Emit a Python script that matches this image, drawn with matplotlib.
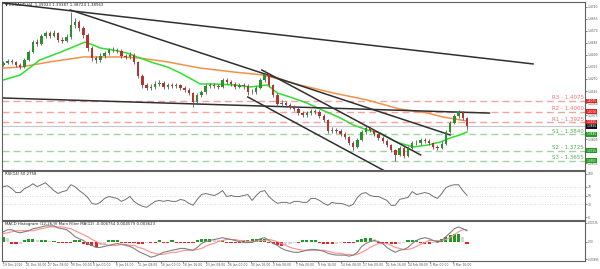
import numpy as np
import matplotlib
matplotlib.use("Agg")
import matplotlib.pyplot as plt
import matplotlib.transforms as mtransforms

# EURAUD H4, one candle per 3 bars (open = previous close)
first_open = 1.4330
close = [1.4343, 1.4357, 1.4350, 1.4329, 1.4315, 1.4364, 1.4420, 1.4490, 1.4476, 1.4533,
         1.4554, 1.4533, 1.4554, 1.4505, 1.4498, 1.4526, 1.4610, 1.4631, 1.4589, 1.4540,
         1.4448, 1.4378, 1.4364, 1.4392, 1.4413, 1.4434, 1.4434, 1.4427, 1.4392, 1.4385,
         1.4399, 1.4350, 1.4251, 1.4188, 1.4167, 1.4174, 1.4195, 1.4202, 1.4174, 1.4188,
         1.4181, 1.4188, 1.4167, 1.4152, 1.4131, 1.4068, 1.4117, 1.4138, 1.4181, 1.4188,
         1.4181, 1.4174, 1.4223, 1.4209, 1.4195, 1.4174, 1.4188, 1.4181, 1.4138, 1.4138,
         1.4167, 1.4223, 1.4265, 1.4188, 1.4117, 1.4054, 1.4061, 1.4047, 1.4033, 1.4019,
         1.3990, 1.3976, 1.3990, 1.4005, 1.3998, 1.3969, 1.3941, 1.3864, 1.3871, 1.3864,
         1.3843, 1.3821, 1.3779, 1.3751, 1.3800, 1.3857, 1.3885, 1.3871, 1.3843, 1.3814,
         1.3793, 1.3765, 1.3730, 1.3695, 1.3744, 1.3688, 1.3744, 1.3779, 1.3779, 1.3800,
         1.3793, 1.3779, 1.3751, 1.3744, 1.3772, 1.3857, 1.3920, 1.3969, 1.3998, 1.3955,
         1.3896]
high = [1.4360, 1.4372, 1.4368, 1.4355, 1.4340, 1.4375, 1.4432, 1.4505, 1.4510, 1.4548,
        1.4570, 1.4568, 1.4572, 1.4560, 1.4525, 1.4545, 1.4703, 1.4660, 1.4645, 1.4600,
        1.4552, 1.4460, 1.4395, 1.4410, 1.4430, 1.4450, 1.4452, 1.4448, 1.4440, 1.4405,
        1.4418, 1.4410, 1.4360, 1.4262, 1.4200, 1.4195, 1.4215, 1.4222, 1.4215, 1.4205,
        1.4200, 1.4205, 1.4198, 1.4178, 1.4165, 1.4140, 1.4130, 1.4152, 1.4195, 1.4205,
        1.4202, 1.4195, 1.4240, 1.4235, 1.4222, 1.4208, 1.4205, 1.4200, 1.4192, 1.4160,
        1.4182, 1.4240, 1.4295, 1.4275, 1.4198, 1.4128, 1.4080, 1.4075, 1.4060, 1.4045,
        1.4030, 1.4005, 1.4008, 1.4022, 1.4020, 1.4010, 1.3980, 1.3950, 1.3890, 1.3885,
        1.3878, 1.3855, 1.3832, 1.3790, 1.3815, 1.3870, 1.3900, 1.3898, 1.3880, 1.3852,
        1.3825, 1.3805, 1.3775, 1.3740, 1.3758, 1.3755, 1.3758, 1.3795, 1.3798, 1.3815,
        1.3812, 1.3805, 1.3788, 1.3768, 1.3790, 1.3870, 1.3935, 1.3985, 1.4012, 1.4005,
        1.3962]
low = [1.4318, 1.4335, 1.4338, 1.4315, 1.4300, 1.4308, 1.4355, 1.4412, 1.4462, 1.4468,
       1.4520, 1.4518, 1.4525, 1.4490, 1.4485, 1.4490, 1.4515, 1.4590, 1.4570, 1.4520,
       1.4430, 1.4360, 1.4340, 1.4350, 1.4380, 1.4400, 1.4418, 1.4410, 1.4375, 1.4368,
       1.4370, 1.4335, 1.4238, 1.4170, 1.4150, 1.4152, 1.4160, 1.4182, 1.4158, 1.4160,
       1.4165, 1.4168, 1.4150, 1.4135, 1.4115, 1.4030, 1.4055, 1.4100, 1.4125, 1.4168,
       1.4165, 1.4158, 1.4165, 1.4192, 1.4180, 1.4158, 1.4165, 1.4162, 1.4120, 1.4122,
       1.4125, 1.4158, 1.4210, 1.4175, 1.4100, 1.4038, 1.4040, 1.4030, 1.4018, 1.4002,
       1.3975, 1.3960, 1.3962, 1.3978, 1.3982, 1.3955, 1.3925, 1.3848, 1.3852, 1.3848,
       1.3828, 1.3805, 1.3762, 1.3732, 1.3742, 1.3790, 1.3845, 1.3855, 1.3830, 1.3800,
       1.3778, 1.3750, 1.3715, 1.3650, 1.3685, 1.3672, 1.3680, 1.3735, 1.3762, 1.3765,
       1.3778, 1.3762, 1.3735, 1.3728, 1.3735, 1.3765, 1.3848, 1.3910, 1.3958, 1.3940,
       1.3872]

# moving averages (bar index, price)
ma_slow_x = [0, 12, 33, 57, 69, 83, 97, 117, 140, 164, 185, 211, 235, 259, 282, 302, 313, 330]
ma_slow = [1.4307, 1.4314, 1.4350, 1.4385, 1.4385, 1.4385, 1.4378, 1.4350, 1.4307, 1.4279,
           1.4258, 1.4188, 1.4131, 1.4082, 1.4019, 1.3990, 1.3962, 1.3934]
ma_fast_x = [0, 12, 26, 41, 53, 58, 64, 69, 78, 88, 97, 107, 117, 126, 135, 140, 149, 164,
             176, 188, 195, 204, 216, 230, 240, 249, 259, 268, 277, 282, 292, 302, 311, 318,
             325, 330]
ma_fast = [1.4223, 1.4258, 1.4364, 1.4420, 1.4469, 1.4490, 1.4469, 1.4448, 1.4434, 1.4413,
           1.4378, 1.4343, 1.4314, 1.4272, 1.4223, 1.4195, 1.4195, 1.4188, 1.4174, 1.4188,
           1.4131, 1.4103, 1.4061, 1.3998, 1.3955, 1.3906, 1.3871, 1.3850, 1.3800, 1.3779,
           1.3751, 1.3765, 1.3786, 1.3814, 1.3836, 1.3857]

# trend lines (bar, price) -> (bar, price)
trend_lines = [((0, 1.4765), (377, 1.4336)),
               ((47.6, 1.4716), (318, 1.3836)),
               ((184, 1.4293), (297, 1.3695)),
               ((174, 1.4103), (275, 1.3563)),
               ((0, 1.4096), (346, 1.3990))]

level_names = ["R3", "R2", "R1", "S1", "S2", "S3"]
level_values = [1.4075, 1.4000, 1.3925, 1.3840, 1.3725, 1.3655]
last_price = 1.3896

price_ticks = [1.4740, 1.4655, 1.4570, 1.4485, 1.4400, 1.4315, 1.4230, 1.4145,
               1.4060, 1.3975, 1.3890, 1.3805, 1.3720, 1.3635]

rsi = [70.5, 72.7, 65.9, 56.8, 56.8, 65.9, 70.5, 77.3, 70.5, 75.0,
       79.5, 70.5, 61.4, 54.5, 59.1, 61.4, 75.0, 70.5, 61.4, 54.5,
       45.5, 31.8, 29.5, 34.1, 43.2, 47.7, 45.5, 43.2, 36.4, 40.9,
       47.7, 36.4, 29.5, 25.0, 22.7, 29.5, 36.4, 38.6, 36.4, 38.6,
       36.4, 36.4, 40.9, 38.6, 31.8, 27.3, 40.9, 52.3, 54.5, 52.3,
       50.0, 54.5, 61.4, 47.7, 50.0, 47.7, 47.7, 50.0, 52.3, 38.6,
       50.0, 59.1, 61.4, 47.7, 38.6, 31.8, 34.1, 34.1, 31.8, 36.4,
       36.4, 34.1, 34.1, 43.2, 43.2, 38.6, 31.8, 27.3, 34.1, 31.8,
       31.8, 29.5, 25.0, 29.5, 45.5, 54.5, 56.8, 50.0, 47.7, 47.7,
       43.2, 38.6, 27.3, 27.3, 40.9, 43.2, 45.5, 59.1, 52.3, 54.5,
       56.8, 54.5, 47.7, 43.2, 54.5, 68.2, 72.7, 75.0, 75.0, 61.4,
       50.3]

macd_main = [0.0038, 0.0046, 0.0046, 0.0038, 0.0034, 0.0038, 0.0042, 0.0050, 0.0053, 0.0057,
             0.0061, 0.0061, 0.0061, 0.0053, 0.0050, 0.0046, 0.0034, 0.0019, 0.0011, 0.0004,
             -0.0008, -0.0015, -0.0023, -0.0023, -0.0019, -0.0015, -0.0011, -0.0008, -0.0011, -0.0015,
             -0.0019, -0.0027, -0.0038, -0.0046, -0.0053, -0.0061, -0.0057, -0.0050, -0.0042, -0.0038,
             -0.0034, -0.0031, -0.0027, -0.0027, -0.0031, -0.0034, -0.0023, -0.0008, 0.0000, 0.0004,
             0.0008, 0.0011, 0.0015, 0.0011, 0.0008, 0.0004, 0.0000, -0.0004, -0.0004, -0.0004,
             0.0004, 0.0011, 0.0015, 0.0004, -0.0008, -0.0015, -0.0027, -0.0034, -0.0038, -0.0042,
             -0.0042, -0.0038, -0.0034, -0.0031, -0.0031, -0.0034, -0.0038, -0.0046, -0.0050, -0.0053,
             -0.0053, -0.0053, -0.0057, -0.0053, -0.0042, -0.0019, -0.0008, 0.0000, 0.0004, 0.0000,
             -0.0008, -0.0023, -0.0034, -0.0042, -0.0034, -0.0031, -0.0023, -0.0008, 0.0004, 0.0011,
             0.0015, 0.0011, 0.0004, -0.0004, 0.0004, 0.0019, 0.0034, 0.0050, 0.0057, 0.0050,
             0.0042]
macd_signal = [0.0031, 0.0034, 0.0038, 0.0042, 0.0042, 0.0042, 0.0042, 0.0042, 0.0046, 0.0050,
               0.0053, 0.0057, 0.0057, 0.0057, 0.0057, 0.0053, 0.0050, 0.0042, 0.0034, 0.0027,
               0.0019, 0.0008, 0.0000, -0.0008, -0.0011, -0.0015, -0.0015, -0.0015, -0.0011, -0.0011,
               -0.0015, -0.0015, -0.0023, -0.0027, -0.0034, -0.0042, -0.0046, -0.0050, -0.0050, -0.0046,
               -0.0042, -0.0042, -0.0038, -0.0034, -0.0034, -0.0034, -0.0031, -0.0027, -0.0019, -0.0011,
               -0.0008, 0.0000, 0.0004, 0.0008, 0.0008, 0.0008, 0.0004, 0.0004, 0.0000, 0.0000,
               0.0000, 0.0004, 0.0004, 0.0008, 0.0004, 0.0000, -0.0008, -0.0015, -0.0023, -0.0027,
               -0.0031, -0.0034, -0.0034, -0.0034, -0.0034, -0.0034, -0.0034, -0.0038, -0.0042, -0.0046,
               -0.0046, -0.0050, -0.0050, -0.0053, -0.0050, -0.0042, -0.0034, -0.0023, -0.0015, -0.0008,
               -0.0008, -0.0008, -0.0015, -0.0023, -0.0027, -0.0031, -0.0031, -0.0027, -0.0019, -0.0011,
               -0.0004, 0.0004, 0.0004, 0.0004, 0.0004, 0.0008, 0.0015, 0.0027, 0.0038, 0.0046,
               0.0046]
macd_hist = [0.0019, 0.0015, -0.0008, -0.0011, -0.0008, 0.0004, 0.0008, 0.0008, 0.0004, 0.0004,
             0.0004, 0.0002, 0.0002, -0.0004, -0.0004, -0.0004, -0.0004, 0.0004, 0.0004, -0.0008,
             -0.0015, -0.0019, -0.0023, -0.0015, -0.0008, 0.0004, 0.0004, 0.0004, -0.0004, -0.0004,
             -0.0004, -0.0004, -0.0008, -0.0008, -0.0004, -0.0004, -0.0004, 0.0004, -0.0004, -0.0004,
             0.0004, -0.0004, -0.0004, -0.0004, -0.0004, -0.0004, 0.0004, 0.0008, 0.0011, 0.0011,
             0.0008, 0.0004, 0.0004, -0.0004, -0.0004, -0.0004, -0.0004, 0.0004, 0.0004, 0.0008,
             0.0008, 0.0011, 0.0011, -0.0004, -0.0011, -0.0015, -0.0019, -0.0015, -0.0011, -0.0004,
             -0.0004, 0.0004, 0.0004, 0.0004, 0.0004, -0.0004, -0.0008, -0.0011, -0.0011, -0.0008,
             -0.0004, -0.0004, -0.0004, -0.0004, 0.0004, 0.0011, 0.0015, 0.0015, 0.0011, -0.0004,
             -0.0008, -0.0011, -0.0011, -0.0011, -0.0008, -0.0004, 0.0004, 0.0004, 0.0004, -0.0004,
             -0.0008, -0.0008, -0.0004, 0.0004, 0.0008, 0.0019, 0.0027, 0.0031, 0.0031, 0.0019,
             -0.0008]

date_labels = ["19 Dec 2016", "21 Dec 16:00", "27 Dec 08:00", "30 Dec 00:00", "4 Jan 00:00",
               "6 Jan 16:00", "11 Jan 08:00", "16 Jan 00:00", "18 Jan 16:00", "23 Jan 08:00",
               "26 Jan 00:00", "30 Jan 16:00", "2 Feb 08:00", "7 Feb 00:00", "9 Feb 16:00",
               "14 Feb 08:00", "17 Feb 00:00", "21 Feb 16:00", "24 Feb 08:00", "1 Mar 00:00",
               "3 Mar 16:00"]

x = np.arange(len(close)) * 3
opens = [first_open] + close[:-1]
fs = 2.2
axis_col = "#555555"

fig = plt.figure(figsize=(6, 2.69), dpi=100)
fig.patch.set_facecolor("white")
ax = fig.add_axes([0.0033, 0.368, 0.9717, 0.6245])
ax_rsi = fig.add_axes([0.0033, 0.1822, 0.9717, 0.182], sharex=ax)
ax_macd = fig.add_axes([0.0033, 0.0297, 0.9717, 0.1487], sharex=ax)

for a in (ax, ax_rsi, ax_macd):
    for s in a.spines.values():
        s.set_color("#606060")
        s.set_linewidth(0.8)
    a.yaxis.tick_right()
    a.tick_params(axis="y", labelsize=fs, colors=axis_col, length=1.2, width=0.5, pad=0.6)
    a.tick_params(axis="x", length=0, labelbottom=False)
ax.set_xlim(-1, 414)

# main price panel
ax.set_ylim(1.3589, 1.4772)
marked = level_values + [last_price]
shown_ticks = [t for t in price_ticks if min(abs(t - m) for m in marked) > 0.0012]
ax.set_yticks(shown_ticks)
ax.set_yticklabels(["%.4f" % t for t in shown_ticks])

ax.axhline(last_price, color="#c8c8c8", lw=0.8, zorder=1)
lvl_tr = mtransforms.blended_transform_factory(ax.transAxes, ax.transData)
for name, val in zip(level_names, level_values):
    col = "#f4a3a3" if name.startswith("R") else "#9fd69f"
    tcol = "#f07070" if name.startswith("R") else "#55aa55"
    ax.axhline(val, color=col, lw=1.0, dashes=(5, 3), zorder=1)
    ax.text(0.998, val + 0.0004, "%s - %.4f" % (name, val), transform=lvl_tr,
            ha="right", va="bottom", fontsize=4.0, color=tcol)

ax.plot(ma_slow_x, ma_slow, color="#f0924c", lw=1.1, zorder=3)
ax.plot(ma_fast_x, ma_fast, color="#2ee02e", lw=1.1, zorder=3)
for (x0, y0), (x1, y1) in trend_lines:
    ax.plot([x0, x1], [y0, y1], color="#303030", lw=1.1, zorder=4)

bull = [c >= o for o, c in zip(opens, close)]
ax.vlines(x, low, high, color="#5a5a5a", lw=0.6, zorder=5)
bottoms = [min(o, c) for o, c in zip(opens, close)]
heights = [max(abs(c - o), 0.0002) for o, c in zip(opens, close)]
ax.bar(x, heights, bottom=bottoms, width=1.7,
       color=["#2f8f2f" if b else "#b83232" for b in bull], edgecolor="none", zorder=6)

ax.text(0.006, 0.995, "\u25bc EURAUD,H4  1.39023 1.39387 1.38724 1.38963", transform=ax.transAxes,
        ha="left", va="top", fontsize=2.8, color="#222222")

for name, val in zip(level_names, level_values):
    bcol = "#e02020" if name.startswith("R") else "#1f9a1f"
    ax.text(1.003, val, "%.4f" % val, transform=lvl_tr, ha="left", va="center", fontsize=2.1,
            color="white", bbox=dict(fc=bcol, ec="none", pad=0.3), clip_on=False)
ax.text(1.003, last_price, "%.4f" % last_price, transform=lvl_tr, ha="left", va="center", fontsize=2.1,
        color="white", bbox=dict(fc="#111111", ec="none", pad=0.3), clip_on=False)

# RSI panel
ax_rsi.set_ylim(-6.8, 106.8)
ax_rsi.set_yticks([0, 30, 50, 70, 100])
for lvl in (30, 50, 70):
    ax_rsi.axhline(lvl, color="#c8c8c8", lw=0.6, ls=(0, (1, 2)))
ax_rsi.plot(x, rsi, color="#707070", lw=0.7)
ax_rsi.text(0.006, 0.97, "RSI(14) 50.2758", transform=ax_rsi.transAxes, ha="left", va="top",
            fontsize=2.8, color="#222222")

# MACD panel
ax_macd.set_ylim(-0.0076, 0.0080)
ax_macd.set_yticks([-0.00695, 0.0, 0.00725])
ax_macd.set_yticklabels(["-0.00695", "0.00", "0.00725"], fontsize=1.9)
hist_cols = []
prev = 0.0
for h in macd_hist:
    if h > 0 and h >= prev:
        hist_cols.append("#1f9a1f")
    elif h < 0 and h <= prev:
        hist_cols.append("#e52222")
    else:
        hist_cols.append("#d6d6d6")
    prev = h
ax_macd.bar(x, macd_hist, width=2.2, color=hist_cols, zorder=2)
ax_macd.plot(x, macd_signal, color="#ff8c8c", lw=0.8, zorder=3)
ax_macd.plot(x, macd_main, color="#808080", lw=0.8, zorder=4)
ax_macd.text(0.006, 0.97, "MACD Histogram (12,26,9) Main Filter MA(12) -0.006754 0.004579 0.003623",
             transform=ax_macd.transAxes, ha="left", va="top", fontsize=2.8, color="#222222")

ax_macd.set_xticks(np.arange(len(date_labels)) * 16)
ax_macd.set_xticklabels(date_labels)
ax_macd.tick_params(axis="x", labelbottom=True, labelsize=fs, colors=axis_col, length=1.2, width=0.5, pad=0.5)
for lbl in ax_macd.get_xticklabels():
    lbl.set_ha("left")

fig.savefig("out.png", dpi=100, facecolor="white")
